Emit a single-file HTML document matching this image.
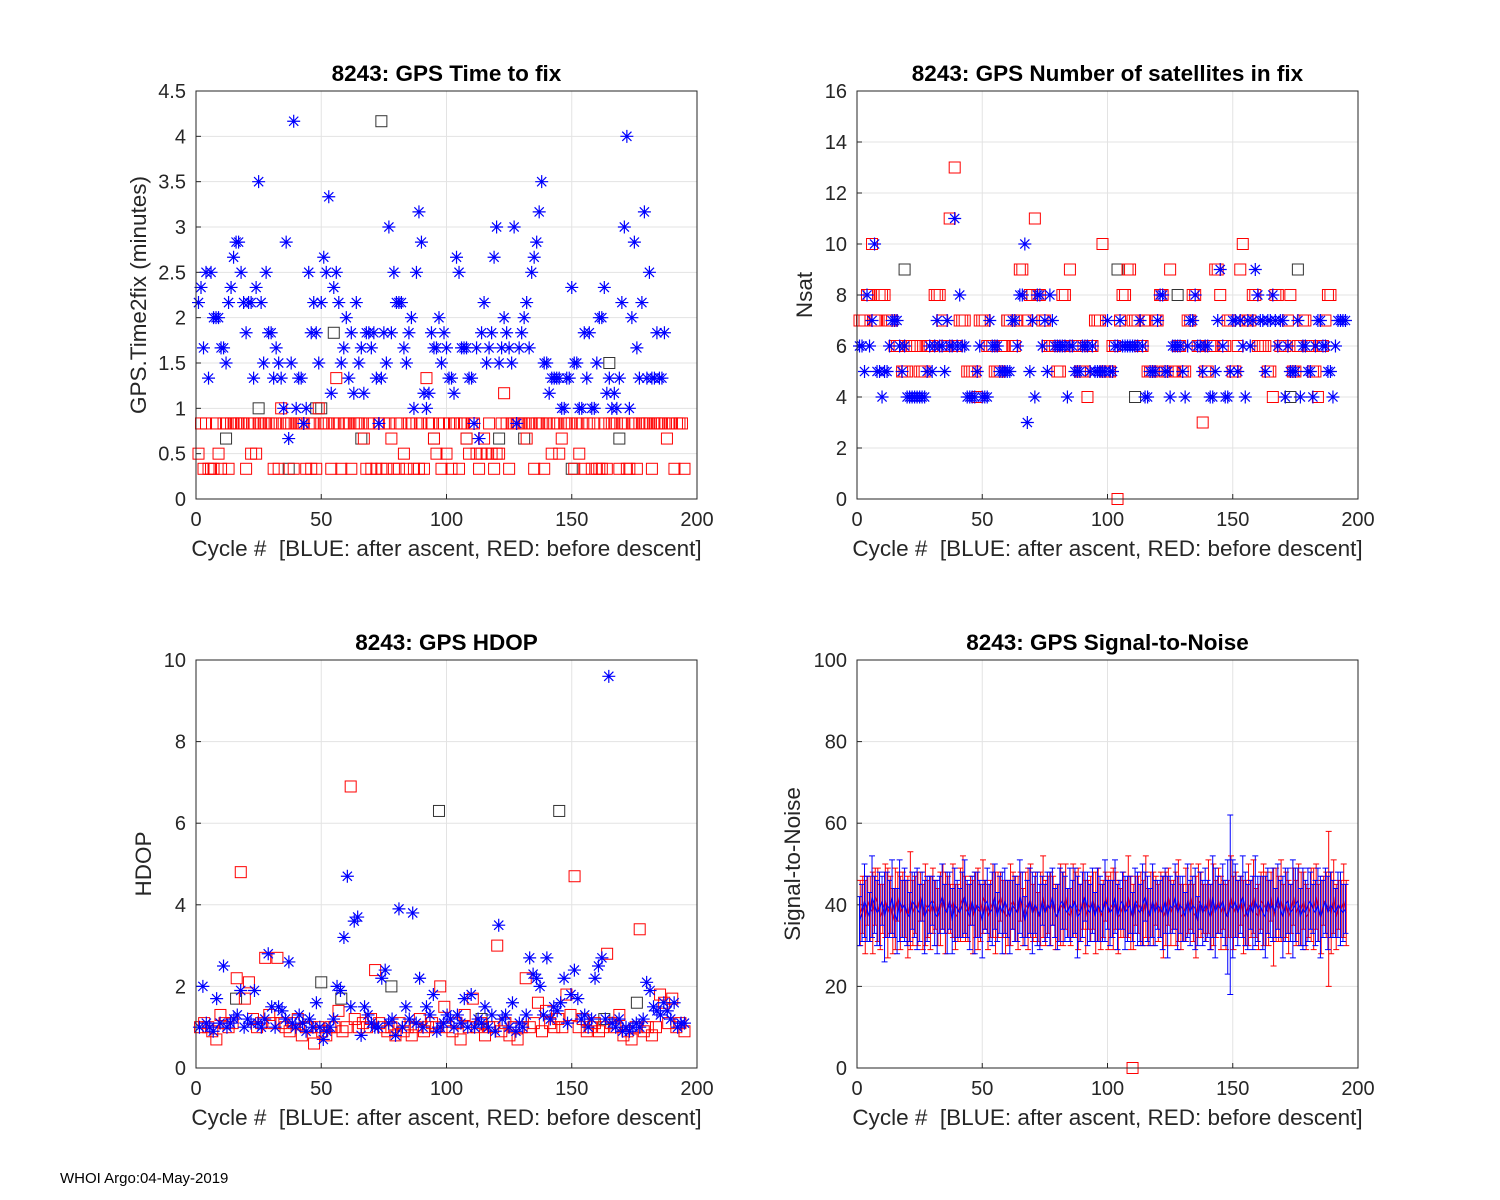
<!DOCTYPE html>
<html><head><meta charset="utf-8"><style>
html,body{margin:0;padding:0;background:#fff;}
svg{display:block;font-family:"Liberation Sans",Arial,sans-serif;}
text{white-space:pre;}
</style></head><body>
<svg id="fig" width="1500" height="1200" viewBox="0 0 1500 1200" xmlns="http://www.w3.org/2000/svg">
<rect width="1500" height="1200" fill="#fff"/>
<text x="60" y="1183" font-size="15" fill="#000">WHOI Argo:04-May-2019</text>
</svg>
<script>
// Time to fix, units of 1/6 minute (10 s)
const timeBlue = [13,14,10,15,8,15,12,12,12,10,10,9,13,14,16,17,17,15,13,11,13,13,8,14,21,13,9,15,11,11,8,10,9,8,6,17,4,9,25,6,
8,8,5,6,15,11,13,11,9,13,16,15,20,7,14,15,13,9,10,12,8,11,7,13,9,10,7,11,11,10,11,8,5,8,11,9,18,11,15,13,
13,13,10,9,11,12,6,15,19,17,7,6,7,11,10,10,12,9,11,10,8,8,7,16,15,10,10,10,8,8,5,10,4,11,13,9,10,11,16,18,
9,10,12,11,10,9,18,5,10,11,12,13,10,15,16,17,19,21,9,9,7,8,8,8,8,6,6,8,8,14,9,9,6,6,11,8,11,6,6,9,
12,12,14,7,8,6,7,6,8,13,18,24,6,12,17,10,8,13,19,8,15,8,8,11,8,8,11];
const timeRed = [3,5,2,5,2,2,2,5,3,2,5,5,2,5,5,5,5,5,5,2,5,3,5,3,5,5,5,5,5,5,2,5,2,6,5,5,5,5,2,5,5,5,5,2,5,2,5,2,6,5,
5,5,5,2,5,8,5,2,5,5,5,2,5,5,5,5,4,2,5,2,5,2,5,2,5,2,5,4,2,5,2,5,3,2,5,5,2,5,2,5,2,8,5,5,4,3,5,2,5,3,
5,2,5,5,2,5,5,4,3,5,5,3,2,3,4,3,5,3,2,3,3,5,7,5,2,5,5,5,5,5,5,4,5,5,2,5,5,5,2,5,5,3,5,5,3,4,5,5,5,5,
2,5,3,5,2,5,5,2,5,2,2,2,5,2,5,5,5,5,2,5,5,2,2,5,5,2,5,5,5,5,5,2,5,5,5,5,5,4,5,5,2,5,5,5,2];
const timeBlackCycles = [25,12,37,48,50,55,74,66,95,108,121,131,150,165,169];
const timeBlack = [6,4,2,6,6,11,25,4,4,4,4,4,2,9,4];

const nsatBlue = [6,6,5,8,6,7,10,5,5,4,5,5,6,7,7,7,6,5,6,4,4,4,4,4,4,4,4,5,6,5,6,7,6,6,5,7,6,6,11,6,8,6,6,4,4,4,4,5,6,4,4,4,7,6,6,6,5,5,5,5,5,7,7,6,8,8,10,3,5,7,4,8,8,6,7,5,8,7,6,6,6,6,6,4,6,6,5,5,5,6,6,6,5,6,5,5,5,5,5,7,5,5,6,6,7,6,6,6,6,6,6,6,7,6,4,4,5,5,5,7,8,8,5,5,4,6,6,6,6,5,4,6,7,7,8,6,6,5,6,6,4,4,5,7,9,6,4,4,5,7,7,5,7,6,4,7,6,7,9,8,7,7,5,7,7,8,7,6,7,7,4,6,5,5,5,7,4,6,6,5,5,4,6,7,7,6,6,5,5,4,6,7,7,7,7];
const nsatRed = [7,7,7,8,8,10,7,7,8,8,8,7,7,7,6,6,6,5,5,5,6,6,6,6,5,5,5,6,6,6,8,8,8,7,6,6,11,6,13,6,7,7,7,5,5,5,5,4,7,7,7,6,6,6,5,5,5,6,6,7,7,6,6,7,9,9,7,7,8,8,11,8,8,7,7,6,6,6,6,5,5,8,8,6,9,6,6,6,5,5,5,4,6,6,7,7,7,10,5,5,5,6,6,0,7,8,8,9,9,7,7,7,6,6,7,5,5,5,7,7,8,8,5,5,9,5,5,6,6,5,5,7,7,8,8,6,6,3,5,5,6,6,9,9,8,6,6,7,7,5,5,6,9,10,7,7,7,8,8,6,6,6,6,5,5,4,8,8,6,6,6,7,8,5,5,6,6,7,7,6,6,5,5,4,6,6,7,8,8];
const nsatBlackCycles = [19,70,104,111,173,176,128,60];
const nsatBlack = [9,8,9,4,4,9,8,7];

const hdopBlue = [1.0,2.0,1.1,1.0,0.9,1.7,1.1,2.5,1.0,1.1,1.2,1.3,1.9,1.0,1.2,1.1,1.9,1.1,1.0,1.2,2.8,1.5,1.0,1.5,1.4,1.2,2.6,1.1,1.0,1.3,1.1,0.9,1.2,1.0,1.6,1.0,0.7,0.9,1.0,1.2,2.0,1.9,3.2,4.7,1.5,3.6,3.7,0.8,1.5,1.3,1.1,1.0,1.0,2.2,2.4,1.1,1.2,0.8,3.9,1.0,1.5,1.2,3.8,1.1,2.2,1.0,1.5,1.3,1.8,0.9,1.0,1.1,1.3,1.2,1.0,1.3,1.1,1.7,1.0,1.8,1.0,1.2,1.1,1.5,1.0,1.3,0.9,3.5,1.2,1.3,1.0,1.6,0.9,1.1,1.0,1.3,2.7,2.3,2.2,2.0,1.3,2.7,1.2,1.5,1.4,1.6,2.2,1.1,1.8,2.4,1.7,1.2,1.3,1.0,1.2,2.2,2.5,2.7,1.2,9.6,1.1,1.0,1.2,0.9,1.0,0.9,1.0,1.1,1.0,1.2,2.1,1.9,1.5,1.4,1.3,1.6,1.4,1.2,1.6,1.0,1.1,1.1];
const hdopRed = [1.0,1.1,1.0,0.9,0.7,1.3,1.1,1.0,1.1,2.2,4.8,1.7,2.1,1.2,1.0,1.1,2.7,1.3,1.1,2.7,1.1,1.0,0.9,1.1,1.2,0.8,1.0,1.0,0.6,1.0,0.9,0.8,1.0,1.0,1.4,0.9,1.0,6.9,1.2,1.0,1.1,1.0,1.2,2.4,1.1,1.0,0.9,1.0,0.8,1.1,0.9,1.0,0.8,1.0,1.2,0.9,1.0,1.1,1.0,2.0,1.5,1.0,0.9,1.1,0.7,1.3,1.0,1.7,1.0,1.1,0.8,1.0,1.0,3.0,0.9,1.1,0.8,1.0,0.7,1.0,2.2,1.0,1.1,1.6,0.9,1.4,1.1,1.0,1.2,1.0,1.8,1.3,4.7,1.0,1.2,0.9,1.0,1.1,0.9,1.0,2.8,1.1,1.0,1.3,0.8,0.9,0.7,1.0,3.4,0.9,1.0,0.8,1.0,1.8,1.6,1.1,1.7,1.0,1.1,0.9];
const hdopBlackCycles = [16,50,58,78,97,114,145,163,176];
const hdopBlack = [1.7,2.1,1.7,2.0,6.3,1.2,6.3,1.2,1.6];

const snrBlueMean = [36,38,41,39,37,42,40,38,39,41,37,40,39,42,38,36,41,39,40,38,37,41,40,39,38,42,37,39,40,41,38,37,40,42,39,38,41,36,40,39,38,40,42,39,37,41,38,40,39,36,40,41,38,39,42,37,40,38,41,39,37,40,39,38,42,40,36,39,41,38,40,39,37,41,38,40,39,42,38,37,40,41,39,38,40,39,41,37,38,40,42,39,38,41,37,40,39,38,41,40,38,39,42,37,40,41,38,39,40,37,41,39,38,40,42,39,37,41,38,40,39,38,41,37,40,39,42,38,40,39,37,41,38,40,39,36,41,38,40,39,37,42,38,40,39,41,38,37,40,39,41,38,40,42,39,37,40,38,41,39,40,38,37,41,39,40,38,42,39,37,40,41,38,39,40,41,37,39,38,40,41,39,38,40,37,39,41,38,40,39,38,40,39,38,39];
const snrBlueErr = [6,7,9,8,6,10,7,8,9,6,11,8,7,9,6,8,10,7,9,8,6,7,8,10,7,6,9,8,7,6,8,9,7,8,6,10,7,8,9,7,6,8,9,7,8,6,10,8,7,9,6,8,7,9,8,6,7,10,8,7,9,6,8,7,9,8,6,7,8,10,7,9,8,6,7,8,9,7,6,8,9,7,8,6,9,7,8,10,7,8,6,9,7,8,6,9,8,7,10,6,8,7,9,8,6,7,9,8,7,6,8,9,7,10,6,8,7,9,8,6,7,9,8,10,7,6,8,9,7,8,6,9,8,7,10,6,7,8,9,7,8,10,11,7,6,9,8,14,22,12,9,8,7,10,9,8,6,9,11,8,7,9,10,8,7,9,6,8,7,10,9,8,7,12,9,8,7,10,8,9,7,6,8,9,10,7,8,9,8,7,6,8,9,7,6];
const snrRedMean = [38,40,37,41,39,38,42,40,37,39,41,38,40,36,39,42,38,40,39,37,41,38,40,39,42,37,40,39,38,41,40,37,39,42,38,40,39,41,37,38,40,42,39,38,41,37,40,39,38,42,40,37,39,41,38,40,42,39,37,38,40,41,39,38,42,37,40,39,41,38,40,37,39,42,38,40,39,41,37,38,40,39,42,38,37,41,40,39,38,42,37,40,39,41,38,40,37,39,42,38,40,39,41,37,38,40,39,42,38,37,41,40,39,38,42,37,40,39,41,38,40,37,39,42,38,40,39,41,37,38,40,39,42,38,37,41,40,39,38,42,37,40,39,41,38,40,37,39,42,38,40,39,41,37,38,40,39,42,38,37,41,40,39,38,42,37,40,39,41,38,40,37,39,42,38,40,39,41,37,38,40,39,42,38,37,41,40,39,38,42,37,40,39,41,38];
const snrRedErr = [8,7,9,6,8,10,7,9,8,6,9,11,7,8,10,6,9,8,7,10,12,8,7,9,6,8,10,7,9,8,6,7,9,8,10,7,6,9,8,7,9,10,8,7,6,9,8,10,7,9,6,8,7,9,10,8,6,7,9,8,10,7,8,9,6,7,8,10,9,7,8,6,9,10,8,7,9,6,8,7,10,9,8,6,7,9,8,10,7,8,9,6,8,7,10,9,8,7,6,9,8,10,7,9,6,8,7,10,9,8,6,7,9,8,10,7,8,9,6,7,8,10,9,7,8,6,9,10,8,7,9,6,8,7,10,9,8,6,7,9,8,10,7,8,9,6,8,7,10,9,8,7,6,9,8,10,7,9,6,8,7,10,9,8,6,12,9,8,10,7,8,9,6,7,8,10,9,7,8,6,9,10,8,7,9,6,8,19,10,9,8,6,7,9,8];
const snrZeroCycle = [110];
const snrZeroVal = [0];

const xTicks = [0,50,100,150,200];
const svg = document.getElementById('fig');
const NS = 'http://www.w3.org/2000/svg';
function mk(tag, attrs, parent){const e=document.createElementNS(NS,tag);for(const k in attrs)e.setAttribute(k,attrs[k]);(parent||svg).appendChild(e);return e;}

function makeAxes(cfg){
  const g = mk('g',{});
  
  
  const X = v => cfg.x0 + (v/200)*(cfg.x1-cfg.x0);
  const Y = v => cfg.y1 - (v-cfg.ymin)/(cfg.ymax-cfg.ymin)*(cfg.y1-cfg.y0);
  mk('rect',{x:cfg.x0,y:cfg.y0,width:cfg.x1-cfg.x0,height:cfg.y1-cfg.y0,fill:'#fff'},g);
  xTicks.forEach(t=>{
    const l=mk('line',{x1:X(t),x2:X(t),y1:cfg.y0,y2:cfg.y1,stroke:'#e3e3e3','stroke-width':1},g);
    
    
    mk('line',{x1:X(t),x2:X(t),y1:cfg.y1,y2:cfg.y1-5,stroke:'#262626'},g);
    const tx=mk('text',{x:X(t),y:cfg.y1+27,'font-size':20,'text-anchor':'middle',fill:'#262626'},g);
    tx.textContent=t;
    
    
  });
  cfg.yticks.forEach(t=>{
    const l=mk('line',{x1:cfg.x0,x2:cfg.x1,y1:Y(t),y2:Y(t),stroke:'#e3e3e3','stroke-width':1},g);
    
    
    mk('line',{x1:cfg.x0,x2:cfg.x0+5,y1:Y(t),y2:Y(t),stroke:'#262626'},g);
    const tx=mk('text',{x:cfg.x0-10,y:Y(t)+7,'font-size':20,'text-anchor':'end',fill:'#262626'},g);
    tx.textContent=t;
    
    
  });
  const title=mk('text',{x:(cfg.x0+cfg.x1)/2,y:cfg.y0-10,'font-size':22.5,'font-weight':'bold','text-anchor':'middle',fill:'#000'},g);
  title.textContent=cfg.title;
  
  
  const xl=mk('text',{x:(cfg.x0+cfg.x1)/2,y:cfg.y1+57,'font-size':22.5,'text-anchor':'middle',fill:'#262626'},g);
  xl.textContent='Cycle #  [BLUE: after ascent, RED: before descent]';
  
  
  const yl=mk('text',{x:0,y:0,'font-size':22.5,'text-anchor':'middle',fill:'#262626',transform:`translate(${cfg.ylx},${(cfg.y0+cfg.y1)/2}) rotate(-90)`},g);
  yl.textContent=cfg.ylabel;
  
  
  const plot=mk('g',{},g);
  
  
  return {g,plot,X,Y,cfg};
}
function frame(ax){
  const r=mk('rect',{x:ax.cfg.x0,y:ax.cfg.y0,width:ax.cfg.x1-ax.cfg.x0,height:ax.cfg.y1-ax.cfg.y0,fill:'none',stroke:'#262626','stroke-width':1},ax.g);
  
  
}
function square(ax,c,v,color){
  const s=mk('rect',{x:ax.X(c)-5.5,y:ax.Y(v)-5.5,width:11,height:11,fill:'none',stroke:color,'stroke-width':1},ax.plot);
  
  
}
function star(ax,c,v){
  const x=ax.X(c),y=ax.Y(v),r=6.5,d=4.6;
  const p=mk('path',{d:`M${x-r},${y}H${x+r}M${x},${y-r}V${y+r}M${x-d},${y-d}L${x+d},${y+d}M${x-d},${y+d}L${x+d},${y-d}`,stroke:'#0000ff','stroke-width':1.2,fill:'none'},ax.plot);
  
  
}

// Panel 1
const a1=makeAxes({name:'time-to-fix-chart',x0:196,x1:697,y0:91,y1:499,ymin:0,ymax:4.5,yticks:[0,0.5,1,1.5,2,2.5,3,3.5,4,4.5],title:'8243: GPS Time to fix',ylabel:'GPS.Time2fix (minutes)',ylx:146});
timeBlackCycles.forEach((c,i)=>square(a1,c,timeBlack[i]/6,'#333'));
timeRed.forEach((v,i)=>square(a1,i+1,v/6,'#ff0000'));
timeBlue.forEach((v,i)=>star(a1,i+1,v/6));
frame(a1);

// Panel 2
const a2=makeAxes({name:'nsat-chart',x0:857,x1:1358,y0:91,y1:499,ymin:0,ymax:16,yticks:[0,2,4,6,8,10,12,14,16],title:'8243: GPS Number of satellites in fix',ylabel:'Nsat',ylx:812});
nsatBlackCycles.forEach((c,i)=>square(a2,c,nsatBlack[i],'#333'));
nsatRed.forEach((v,i)=>square(a2,i+1,v,'#ff0000'));
nsatBlue.forEach((v,i)=>star(a2,i+1,v));
frame(a2);

// Panel 3
const a3=makeAxes({name:'hdop-chart',x0:196,x1:697,y0:660,y1:1068,ymin:0,ymax:10,yticks:[0,2,4,6,8,10],title:'8243: GPS HDOP',ylabel:'HDOP',ylx:151});
hdopBlackCycles.forEach((c,i)=>square(a3,c,hdopBlack[i],'#333'));
hdopRed.forEach((v,i)=>square(a3,(i+1)*195/hdopRed.length,v,'#ff0000'));
hdopBlue.forEach((v,i)=>star(a3,(i+1)*195/hdopBlue.length,v));
frame(a3);

// Panel 4
const a4=makeAxes({name:'snr-chart',x0:857,x1:1358,y0:660,y1:1068,ymin:0,ymax:100,yticks:[0,20,40,60,80,100],title:'8243: GPS Signal-to-Noise',ylabel:'Signal-to-Noise',ylx:800});
function errSeries(mean,err,color,name,off){
  let d='',pts=[];
  mean.forEach((m,i)=>{
    const c=i+1+off,x=a4.X(c),yl=a4.Y(m-err[i]),yh=a4.Y(m+err[i]);
    d+=`M${x},${yl}V${yh}M${x-3},${yl}H${x+3}M${x-3},${yh}H${x+3}`;
    pts.push(x+','+a4.Y(m));
  });
  const p=mk('path',{d,stroke:color,'stroke-width':1,fill:'none'},a4.plot);
  
  
  const l=mk('polyline',{points:pts.join(' '),stroke:color,'stroke-width':1,fill:'none'},a4.plot);
  
  
}
errSeries(snrRedMean,snrRedErr,'#ff0000','snr-red',0.3);
errSeries(snrBlueMean,snrBlueErr,'#0000ff','snr-blue',0);
snrZeroCycle.forEach((c,i)=>square(a4,c,snrZeroVal[i],'#ff0000'));
frame(a4);
</script>
</body></html>
